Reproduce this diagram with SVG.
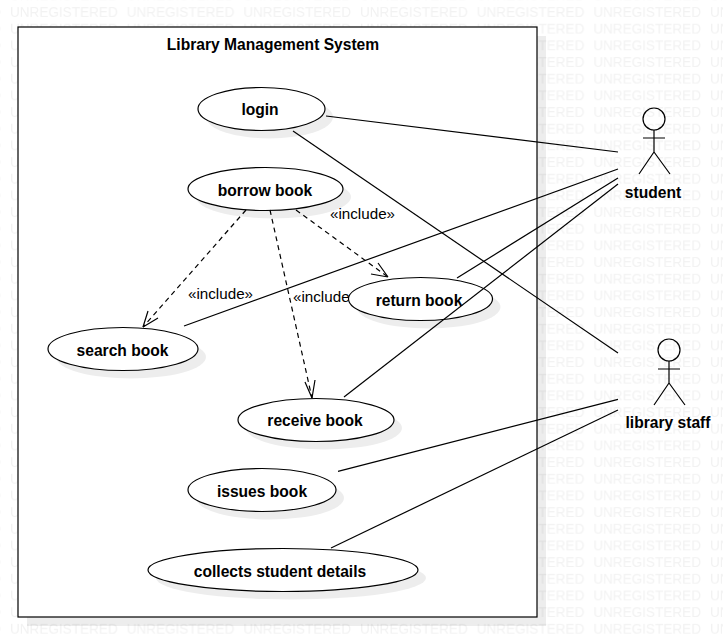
<svg xmlns="http://www.w3.org/2000/svg" width="723" height="635" viewBox="0 0 723 635">
<style>
text{font-family:"Liberation Sans",Arial,sans-serif;fill:#000}
text.wm{font-size:13.55px;fill:#f2f2f2}
.b{font-size:15.6px;font-weight:bold;text-anchor:middle}
.l{font-size:15.2px}
.u{fill:#fff;stroke:#000;stroke-width:1.2}
.s{fill:#000;fill-opacity:.07;stroke:none}
.c{fill:none;stroke:#000;stroke-width:1.2}
.d{fill:none;stroke:#000;stroke-width:1.2;stroke-dasharray:5 4}
.h{fill:none;stroke:#000;stroke-width:1.2}
</style>
<defs>
<pattern id="wm" x="10" y="1.2" width="116.67" height="16.67" patternUnits="userSpaceOnUse">
<text class="wm" x="0" y="16">UNREGISTERED</text>
</pattern>
</defs>
<rect width="723" height="635" fill="#fff"/>
<rect width="723" height="635" fill="url(#wm)"/>
<g id="system">
<rect class="s" x="27" y="36" width="519" height="590"/>
<rect x="18" y="27" width="519" height="590" fill="#fff" stroke="#000" stroke-width="1.2"/>
<text class="b" x="273" y="50">Library Management System</text>
</g>
<g id="login"><ellipse class="s" cx="269.500" cy="117" rx="63.500" ry="21.500"/><ellipse class="u" cx="261.500" cy="109" rx="63.500" ry="21.500"/><text class="b" x="260" y="115">login</text></g>
<g id="borrow-book"><ellipse class="s" cx="273.500" cy="197" rx="77.500" ry="21.500"/><ellipse class="u" cx="265.500" cy="189" rx="77.500" ry="21.500"/><text class="b" x="265" y="196">borrow book</text></g>
<g id="search-book"><ellipse class="s" cx="131" cy="357" rx="75" ry="21.500"/><ellipse class="u" cx="123" cy="349" rx="75" ry="21.500"/><text class="b" x="122.500" y="356">search book</text></g>
<g id="include-connectors">
<path class="d" d="M246 210L143 327"/>
<path class="h" d="M143 327L158 318M143 327L148 311"/>
<path class="d" d="M270 210L312 398"/>
<path class="h" d="M312 398L305 382M312 398L315 380"/>
<path class="d" d="M296 210L388 277"/>
<path class="h" d="M388 277L378 263M388 277L371 274"/>
<text class="l" x="330" y="219">«include»</text>
<text class="l" x="188" y="299">«include»</text>
<text class="l" x="293" y="302">«include»</text>
</g>
<g id="return-book"><ellipse class="s" cx="428.500" cy="307" rx="72" ry="21.500"/><ellipse class="u" cx="420.500" cy="299" rx="72" ry="21.500"/><text class="b" x="419" y="306">return book</text></g>
<g id="receive-book"><ellipse class="s" cx="324" cy="428" rx="78" ry="21.500"/><ellipse class="u" cx="316" cy="420" rx="78" ry="21.500"/><text class="b" x="315" y="426">receive book</text></g>
<g id="issues-book"><ellipse class="s" cx="270" cy="498" rx="74" ry="21.500"/><ellipse class="u" cx="262" cy="490" rx="74" ry="21.500"/><text class="b" x="262" y="497">issues book</text></g>
<g id="collects-student-details"><ellipse class="s" cx="291" cy="578" rx="135" ry="21.500"/><ellipse class="u" cx="283" cy="570" rx="135" ry="21.500"/><text class="b" x="280" y="577">collects student details</text></g>
<g id="connectors">
<path class="c" d="M326 116L618 152"/>
<path class="c" d="M293 131L618 353"/>
<path class="c" d="M184 326L618 169"/>
<path class="c" d="M457 278L618 178"/>
<path class="c" d="M344 397L618 184"/>
<path class="c" d="M338 471.300L618 399.300"/>
<path class="c" d="M331 548L618 410"/>
</g>
<g id="student">
<circle class="c" cx="654" cy="119" r="11"/>
<path class="c" d="M654 130V152M643 138H665M654 152L639 174M654 152L670 174"/>
<text class="b" x="653" y="198">student</text>
</g>
<g id="library-staff">
<circle class="c" cx="669" cy="350" r="11"/>
<path class="c" d="M669 361V383M658 369H680M669 383L654 405M669 383L685 405"/>
<text class="b" x="668" y="428">library staff</text>
</g>
</svg>
